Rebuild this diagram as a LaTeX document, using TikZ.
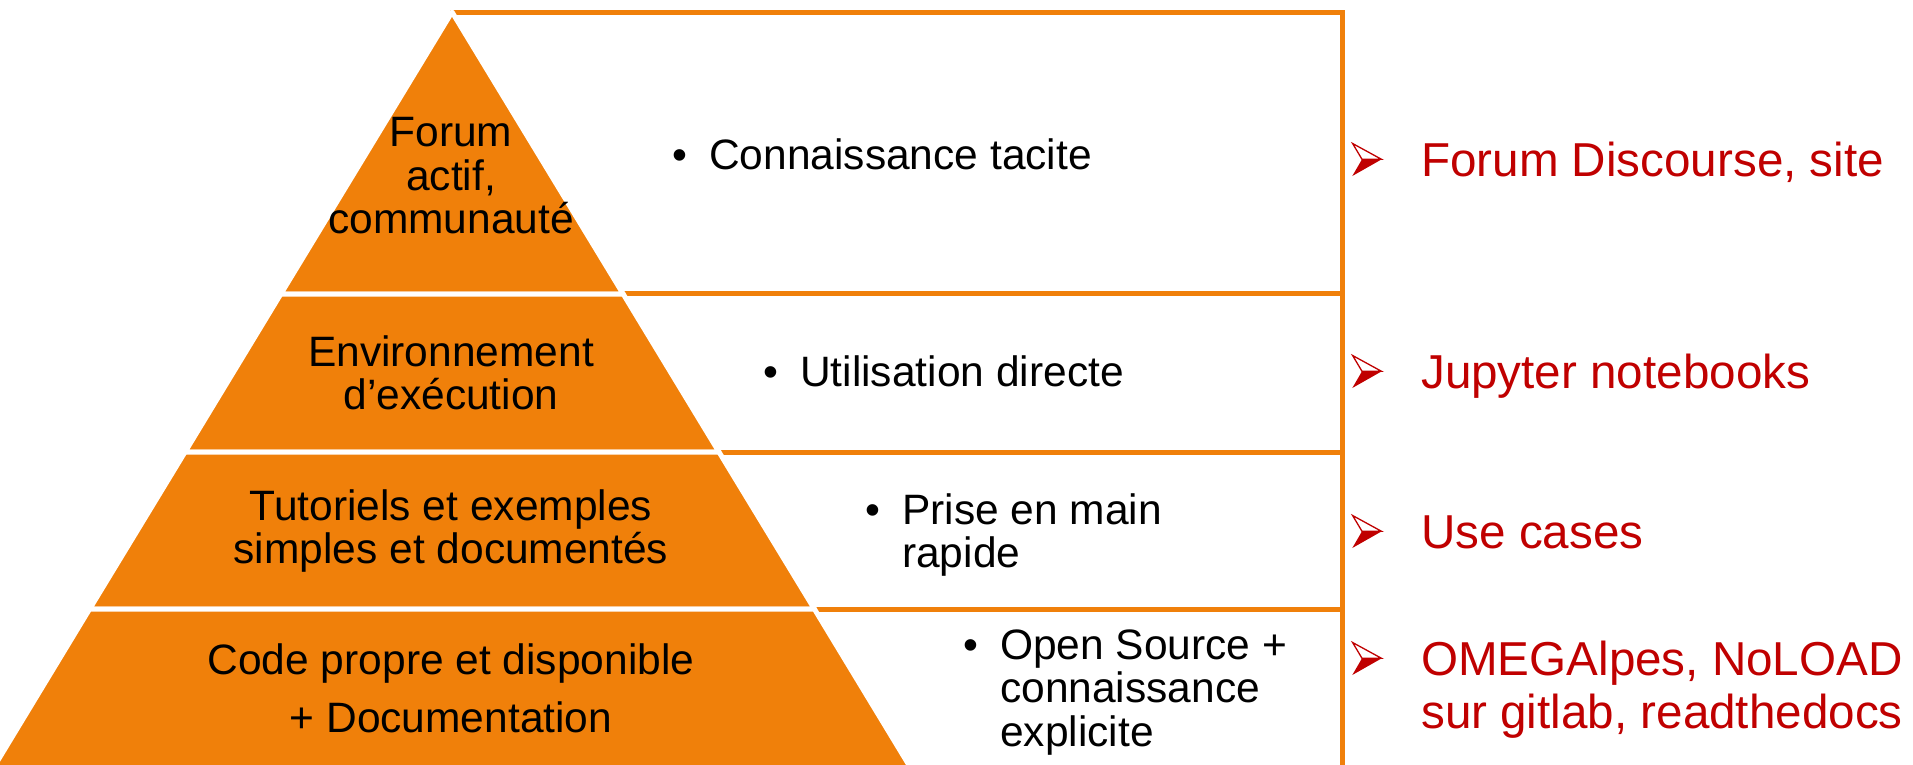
\documentclass[tikz,border=0pt]{standalone}
\usepackage{fontspec}
\setmainfont{Liberation Sans}
\definecolor{pyrorange}{RGB}{240,128,10}
\definecolor{darkred}{RGB}{192,0,0}
\tikzset{
  frame/.style={draw=pyrorange, line width=5pt},
  tier/.style={fill=pyrorange, draw=white, line width=5pt, line join=round},
  pyrtext/.style={align=center, inner sep=0pt, font=\fontsize{42.5}{43.5}\selectfont},
  bultext/.style={anchor=base west, inner sep=0pt, font=\fontsize{42.5}{42}\selectfont},
  redtext/.style={anchor=base west, inner sep=0pt, text=darkred, font=\fontsize{47.6}{53.5}\selectfont},
  arrowhd/.pic={
    \filldraw[draw=darkred, fill=white, line width=1.3pt, line join=miter] (0.6,-32.5) -- (29.5,-16.7) -- (10,-16.7) -- cycle;
    \fill[darkred] (10,-16.7) -- (29.7,-16.7) -- (0.3,0) -- cycle;
  },
}
\newcommand{\bul}{\makebox[37pt][l]{\textbullet}}
\newcommand{\rgap}{\hspace*{69pt}}
\begin{document}
\begin{tikzpicture}[x=1pt,y=-1pt]
\useasboundingbox (0,0) rectangle (1913,764);
\clip (0,0) rectangle (1913,764);
\fill[white] (0,0) rectangle (1913,764);
% frames
\draw[frame] (452,12) rectangle (1342,293.5);
\draw[frame] (452,293.5) rectangle (1342.5,452);
\draw[frame] (452,452) rectangle (1342.5,609);
\draw[frame] (452,609) rectangle (1342.5,780);
% pyramid tiers
\draw[tier] (452,12) -- (623.2,294) -- (280.8,294) -- cycle;
\draw[tier] (280.8,294) -- (623.2,294) -- (719,452) -- (185,452) -- cycle;
\draw[tier] (185,452) -- (719,452) -- (814.4,609) -- (89.6,609) -- cycle;
\draw[tier] (89.6,609) -- (814.4,609) -- (918,780) -- (-14,780) -- cycle;
% pyramid texts
\node[pyrtext] (t1) at (451,176) {Forum\\actif,\\communauté};
\node[pyrtext] (t2) at (451,373) {Environnement\\d’exécution};
\node[pyrtext] (t3) at (451,531) {Tutoriels et exemples\\simples et documentés};
\node[pyrtext, font=\fontsize{42.5}{58}\selectfont] (t4) at (451,688) {Code propre et disponible\\+ Documentation};
% bullets
\node[bultext] (b1) at (672,169) {\bul Connaissance tacite};
\node[bultext] (b2) at (763,386) {\bul Utilisation directe};
\node[bultext] (b3) at (865,524) {\bul\begin{tabular}[t]{@{}l@{}}Prise en main\\rapide\end{tabular}};
\node[bultext, font=\fontsize{42.5}{43}\selectfont] (b4) at (963,659) {\bul\begin{tabular}[t]{@{}l@{}}Open Source +\\connaissance\\explicite\end{tabular}};
% red
\node[redtext] (r1) at (1352,176) {\rgap Forum Discourse, site};
\node[redtext] (r2) at (1352,388) {\rgap Jupyter notebooks};
\node[redtext] (r3) at (1352,548) {\rgap Use cases};
\node[redtext] (r4) at (1352,675) {\rgap\begin{tabular}[t]{@{}l@{}}OMEGAlpes, NoLOAD\\sur gitlab, readthedocs\end{tabular}};
\pic at (r1.base west) {arrowhd};
\pic at (r2.base west) {arrowhd};
\pic at (r3.base west) {arrowhd};
\pic at (r4.base west) {arrowhd};
\end{tikzpicture}
\end{document}
